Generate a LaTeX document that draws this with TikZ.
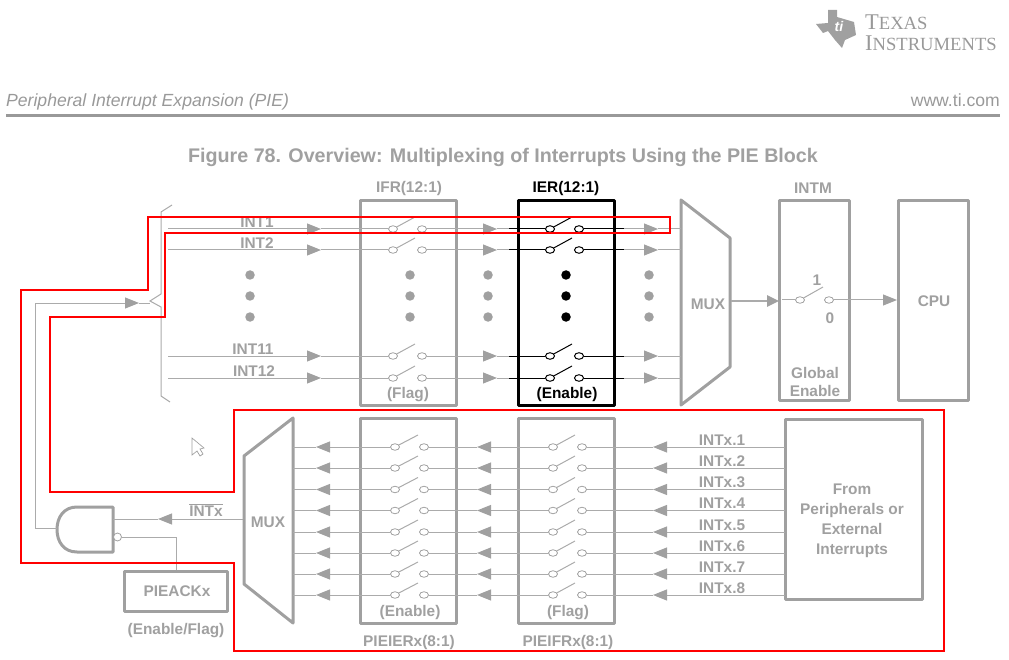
\documentclass[tikz,border=0pt]{standalone}
\usepackage{fontspec}
\setmainfont{Liberation Sans}
\newfontfamily\logofont{Liberation Serif}
\usetikzlibrary{arrows.meta,shapes.geometric}
\definecolor{tigrey}{HTML}{A0A0A0}
\definecolor{tiwire}{HTML}{ABABAB}
\definecolor{tirule}{HTML}{999999}
\tikzset{
    lbl/.style={text=tigrey,inner sep=0pt,yshift=-1pt,font=\bfseries\fontsize{15.4}{18}\selectfont,align=center},
    blk/.style={lbl,text=black},
    box/.style={draw=tigrey,line width=3pt,line join=round},
    blkbox/.style={draw=black,line width=3pt,line join=round},
    wire/.style={draw=tiwire,line width=1pt},
    blkwire/.style={draw=black,line width=1pt},
    flow/.style={wire,-{Triangle[length=14pt,width=11pt,color=tigrey]}},
    term/.style={ellipse,draw=tigrey,fill=white,line width=.8pt,minimum width=9pt,minimum height=6.5pt,inner sep=0pt},
    blkterm/.style={term,draw=black,line width=1pt},
    dot/.style={circle,fill=tigrey,minimum size=9.5pt,inner sep=0pt},
    blkdot/.style={dot,fill=black}
}
\begin{document}
\begin{tikzpicture}[x=1pt,y=-1pt]
    \useasboundingbox (0,0) rectangle (1009,660);
    % page header
    \draw[fill=tigrey,draw=none] (816,24) -- (828,23) -- (828,10) -- (837,10) -- (837,17) -- (854,22) -- (856,35) -- (845,40) -- (842,48) -- (835,40) -- (828,31) -- (823,33) -- cycle;
    \node[text=white,inner sep=0pt,font=\bfseries\itshape\fontsize{14}{14}\selectfont] (logoti) at (839,26) {ti};
    \node[anchor=base west,text=tirule,inner sep=0pt,font=\logofont\fontsize{22.5}{22}\selectfont] (logotexas) at (865,30) {T\fontsize{18.6}{18}\selectfont EXAS};
    \node[anchor=base west,text=tirule,inner sep=0pt,font=\logofont\fontsize{22.5}{22}\selectfont] (logoinst) at (865,51) {I\fontsize{18.6}{18}\selectfont NSTRUMENTS};
    \node[anchor=base west,text=tirule,inner sep=0pt,font=\itshape\fontsize{17.6}{18}\selectfont] (section) at (6,107) {Peripheral Interrupt Expansion (PIE)};
    \node[anchor=base east,text=tirule,inner sep=0pt,font=\fontsize{17.6}{18}\selectfont] (web) at (1000,107) {www.ti.com};
    \draw[tirule,line width=2.6pt] (6,115.5) -- (1000,115.5);
    \node[lbl,font=\bfseries\fontsize{19.7}{20}\selectfont] (title) at (503,156) {Figure 78. Overview: Multiplexing of Interrupts Using the PIE Block};
    % upper blocks
    \node[lbl] (ifrname) at (409,188) {IFR(12:1)};
    \node[blk] (iername) at (566,188) {IER(12:1)};
    \node[lbl] (intmname) at (813,187) {INTM};
    \draw[box] (360.5,201) rectangle (456,405);
    \draw[blkbox] (518,201) rectangle (614,405);
    \draw[box] (681,200) -- (730,238) -- (730,367) -- (681,405) -- cycle;
    \draw[box] (779.5,201) rectangle (849.5,400);
    \draw[box] (898.5,201) rectangle (968.5,400);
    \node[lbl] (ifrflag) at (408,394) {(Flag)};
    \node[blk] (ierenable) at (567,394) {(Enable)};
    \node[lbl] (muxa) at (708,303) {MUX};
    \node[lbl] (global) at (815,381) {Global\\Enable};
    \node[lbl] (cpu) at (934,300) {CPU};
    % upper rows
    \foreach \n/\y/\lx in {1/229/257,2/250/257,11/356/253,12/378/254} {
        \node[lbl] (intl\n) at (\lx,\y-8) {INT\n};
        \coordinate (inp\n) at (168,\y);
        \coordinate (tipa\n) at (321,\y);
        \coordinate (tipb\n) at (497,\y);
        \coordinate (iers\n) at (509,\y);
        \coordinate (iere\n) at (624,\y);
        \coordinate (tipc\n) at (658,\y);
        \coordinate (muxin\n) at (681,\y);
        \node[term] (ifrl\n) at (393,\y) {};
        \node[term] (ifrr\n) at (422,\y) {};
        \node[blkterm] (ierl\n) at (550,\y) {};
        \node[blkterm] (ierr\n) at (579,\y) {};
        \coordinate (ifrarm\n) at (415,\y-12);
        \coordinate (ierarm\n) at (572,\y-12);
        \draw[flow] (inp\n) -- (tipa\n);
        \draw[wire] (tipa\n) -- (ifrl\n);
        \draw[wire] (ifrl\n) -- (ifrarm\n);
        \draw[flow] (ifrr\n) -- (tipb\n);
        \draw[wire] (tipb\n) -- (iers\n);
        \draw[blkwire] (iers\n) -- (ierl\n);
        \draw[blkwire] (ierl\n) -- (ierarm\n);
        \draw[blkwire] (ierr\n) -- (iere\n);
        \draw[flow] (iere\n) -- (tipc\n);
        \draw[wire] (tipc\n) -- (muxin\n);
    }
    \foreach \y in {275,296,317} {
        \node[dot] at (250,\y) {};
        \node[dot] at (410,\y) {};
        \node[dot] at (488,\y) {};
        \node[blkdot] at (566,\y) {};
        \node[dot] at (649,\y) {};
    }
    % bracket and feed from the gate
    \draw[tiwire,line width=1pt] (172,205) -- (161,212) -- (161,294) -- (150,301) -- (161,307) -- (161,396) -- (170,402);
    % global switch
    \coordinate (muxout) at (731,301);
    \coordinate (intmin) at (779,301);
    \coordinate (intmstart) at (782,300);
    \coordinate (cpuin) at (897,300);
    \coordinate (intmarm) at (823,287);
    \node[term] (intml) at (800,300) {};
    \node[term] (intmr) at (829,300) {};
    \node[lbl] (one) at (817,279) {1};
    \node[lbl] (zero) at (830,317) {0};
    \draw[wire,line width=2.6pt,-{Triangle[length=12pt,width=11pt,color=tigrey]}] (muxout) -- (intmin);
    \draw[wire] (intmstart) -- (intml);
    \draw[wire] (intml) -- (intmarm);
    \draw[flow] (intmr) -- (cpuin);
    % lower blocks
    \draw[box] (293,418) -- (244,456) -- (244,584) -- (293,623) -- cycle;
    \draw[box] (360.5,418) rectangle (456,623);
    \draw[box] (518,418) rectangle (614,623);
    \draw[box] (785,419) rectangle (922,599);
    \node[lbl] (muxb) at (268,521) {MUX};
    \node[lbl] (ieenable) at (410,612) {(Enable)};
    \node[lbl] (ifflag) at (568,612) {(Flag)};
    \node[lbl] (piename) at (409,642) {PIEIERx(8:1)};
    \node[lbl] (pifname) at (568,642) {PIEIFRx(8:1)};
    \node[lbl,font=\bfseries\fontsize{15.4}{20}\selectfont] (src) at (852,520) {From\\Peripherals or\\External\\Interrupts};
    % lower rows
    \foreach \n/\y in {1/447,2/468,3/489.5,4/510.5,5/532,6/553,7/574,8/595} {
        \node[lbl] (intx\n) at (722,\y-8) {INTx.\n};
        \coordinate (srco\n) at (785,\y);
        \coordinate (tipd\n) at (653,\y);
        \coordinate (tipe\n) at (477,\y);
        \coordinate (tipf\n) at (316,\y);
        \coordinate (muxi\n) at (293,\y);
        \node[term] (pfl\n) at (553,\y) {};
        \node[term] (pfr\n) at (582,\y) {};
        \node[term] (pel\n) at (395,\y) {};
        \node[term] (per\n) at (424,\y) {};
        \coordinate (pfarm\n) at (575,\y-12);
        \coordinate (pearm\n) at (418,\y-12);
        \draw[flow] (srco\n) -- (tipd\n);
        \draw[wire] (tipd\n) -- (pfr\n);
        \draw[wire] (pfl\n) -- (pfarm\n);
        \draw[flow] (pfl\n) -- (tipe\n);
        \draw[wire] (tipe\n) -- (per\n);
        \draw[wire] (pel\n) -- (pearm\n);
        \draw[flow] (pel\n) -- (tipf\n);
        \draw[wire] (tipf\n) -- (muxi\n);
    }
    % gate and acknowledge
    \draw[box] (113,507) -- (77,507) .. controls (64,507) and (57,517) .. (57,529.5) .. controls (57,542) and (64,552) .. (77,552) -- (113,552) -- cycle;
    \coordinate (gatein) at (57,528);
    \coordinate (gateout) at (113,519);
    \coordinate (muxo) at (243,519);
    \coordinate (tipg) at (158,519);
    \coordinate (bend) at (35,528);
    \coordinate (upper) at (35,303);
    \coordinate (tiph) at (139,303);
    \coordinate (split) at (150,303);
    \coordinate (ackbend) at (176,537);
    \node[term,minimum width=8pt,minimum height=8pt] (bubble) at (117.5,537) {};
    \node[draw=tigrey,line width=3pt,minimum width=103pt,minimum height=40pt,inner sep=0pt,lbl,yshift=1pt,line join=round] (ack) at (175.5,591) {\hspace{3pt}PIEACKx};
    \node[lbl] (ackname) at (176,630) {(Enable/Flag)};
    \node[lbl] (intxbar) at (206,509) {$\overline{\mbox{\bfseries INTx}}$};
    \draw[flow] (muxo) -- (tipg);
    \draw[wire] (tipg) -- (gateout);
    \draw[flow] (gatein) -- (bend) -- (upper) -- (tiph);
    \draw[wire] (tiph) -- (split);
    \draw[wire] (bubble) -- (ackbend) -- (ack.north -| ackbend);
    % pointer
    \draw[tigrey,fill=white,line width=.7pt] (192,438) -- (192,455) -- (197,451) -- (200,456) -- (203,454) -- (200,449) -- (204,448) -- cycle;
    % red outline
    \draw[red,line width=2pt] (148,217) -- (670,217) -- (670,233) -- (165,233) -- (165,317) -- (50,317) -- (50,491.5) -- (234,491.5) -- (234,410) -- (944,410) -- (944,650.5) -- (234,650.5) -- (234,563) -- (21,563) -- (21,290) -- (148,290) -- cycle;
\end{tikzpicture}
\end{document}
